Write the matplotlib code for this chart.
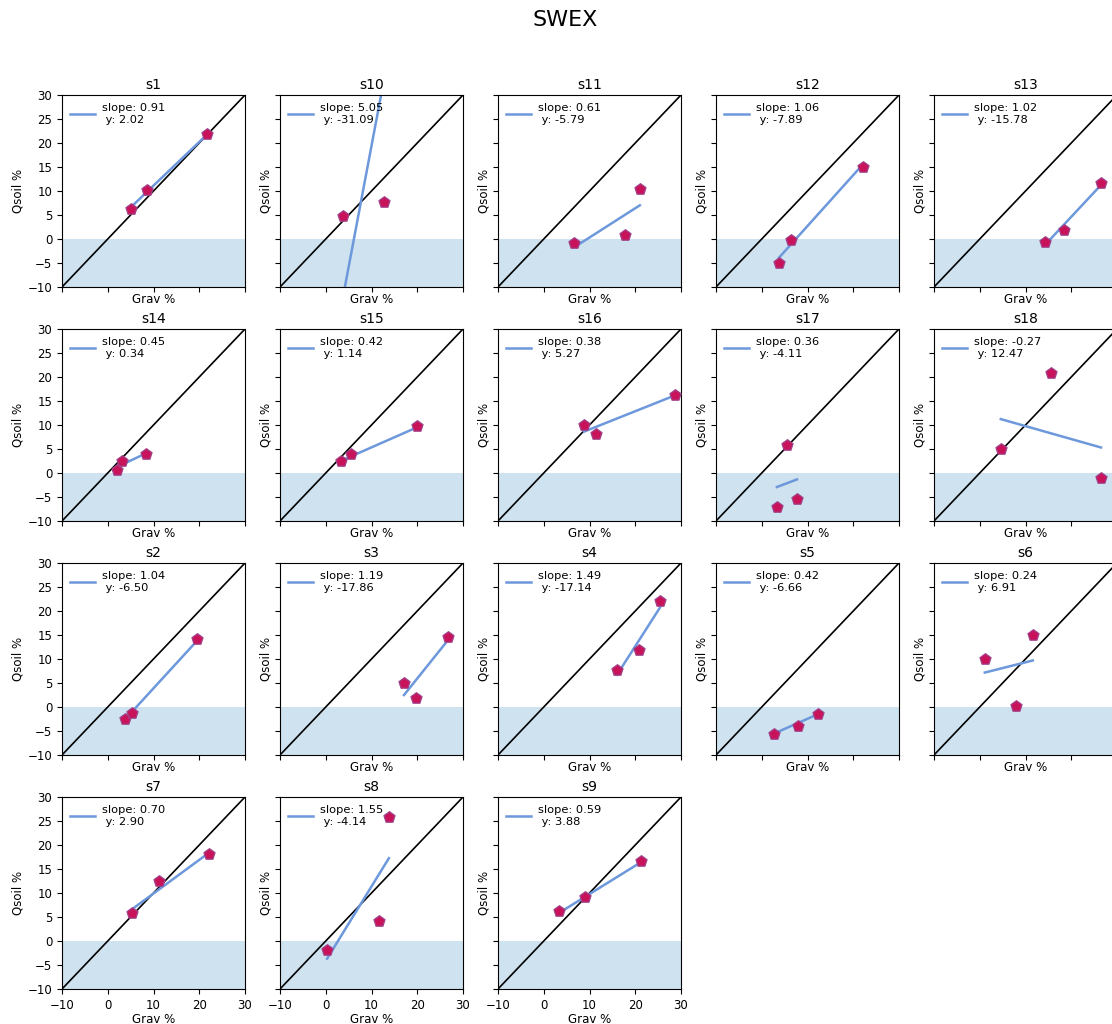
import matplotlib
matplotlib.use("Agg")
import matplotlib.pyplot as plt
import numpy as np

names = ["s1", "s10", "s11", "s12", "s13", "s14", "s15", "s16", "s17", "s18",
         "s2", "s3", "s4", "s5", "s6", "s7", "s8", "s9"]

grav = {
    "s1": [5.0, 8.5, 21.8],
    "s10": [3.8, 12.7],
    "s11": [6.6, 17.8, 21.0],
    "s12": [3.8, 6.4, 22.1],
    "s13": [14.3, 18.5, 26.5],
    "s14": [2.0, 3.1, 8.4],
    "s15": [3.3, 5.5, 19.9],
    "s16": [8.8, 11.4, 28.7],
    "s17": [3.3, 5.5, 7.7],
    "s18": [4.6, 15.6, 26.5],
    "s2": [3.8, 5.3, 19.5],
    "s3": [17.1, 19.7, 26.7],
    "s4": [16.0, 20.8, 25.4],
    "s5": [2.7, 7.9, 12.3],
    "s6": [1.1, 7.9, 11.6],
    "s7": [5.3, 11.2, 22.1],
    "s8": [0.3, 11.6, 13.8],
    "s9": [3.4, 9.1, 21.3],
}

qsoil = {
    "s1": [6.2, 10.3, 21.8],
    "s10": [4.7, 7.8],
    "s11": [-0.8, 0.9, 10.5],
    "s12": [-5.0, -0.2, 15.1],
    "s13": [-0.6, 1.9, 11.6],
    "s14": [0.7, 2.4, 4.0],
    "s15": [2.4, 4.0, 9.7],
    "s16": [9.9, 8.2, 16.2],
    "s17": [-7.1, 5.9, -5.4],
    "s18": [4.9, 20.8, -1.0],
    "s2": [-2.5, -1.2, 14.1],
    "s3": [5.1, 1.9, 14.5],
    "s4": [7.8, 11.8, 22.0],
    "s5": [-5.6, -3.9, -1.4],
    "s6": [10.1, 0.3, 15.1],
    "s7": [5.9, 12.4, 18.1],
    "s8": [-1.8, 4.2, 25.8],
    "s9": [6.3, 9.1, 16.6],
}

slopes = {
    "s1": 0.91, "s10": 5.05, "s11": 0.61, "s12": 1.06, "s13": 1.02,
    "s14": 0.45, "s15": 0.42, "s16": 0.38, "s17": 0.36, "s18": -0.27,
    "s2": 1.04, "s3": 1.19, "s4": 1.49, "s5": 0.42, "s6": 0.24,
    "s7": 0.70, "s8": 1.55, "s9": 0.59,
}

intercepts = {
    "s1": 2.02, "s10": -31.09, "s11": -5.79, "s12": -7.89, "s13": -15.78,
    "s14": 0.34, "s15": 1.14, "s16": 5.27, "s17": -4.11, "s18": 12.47,
    "s2": -6.50, "s3": -17.86, "s4": -17.14, "s5": -6.66, "s6": 6.91,
    "s7": 2.90, "s8": -4.14, "s9": 3.88,
}

ticks = [-10, 0, 10, 20, 30]
yticks = [-10, -5, 0, 5, 10, 15, 20, 25, 30]

W, H = 1112, 1024
fig, axes = plt.subplots(4, 5, sharex=True, sharey=True, figsize=(W / 100, H / 100), dpi=100)
fig.subplots_adjust(left=62 / W, right=1117 / W, top=1 - 95 / H, bottom=1 - 989 / H,
                    wspace=35 / 183, hspace=42 / 192)

flat = axes.flatten()
for ax, name in zip(flat, names):
    x = np.array(grav[name])
    y = np.array(qsoil[name])
    m = slopes[name]
    b = intercepts[name]
    ax.axhspan(-10, 0, color="#1f77b4", alpha=0.21, lw=0, zorder=0)
    ax.plot([-10, 30], [-10, 30], color="black", lw=1.2, zorder=1)
    xl = np.array([x.min(), x.max()])
    ax.plot(xl, m * xl + b, color="#6d98dc", lw=1.8, zorder=2,
            label=f"slope: {m:.2f}\n y: {b:.2f}")
    ax.scatter(x, y, marker="p", s=70, c="#c8135a", edgecolors="#a0418a",
               linewidths=0.9, zorder=3)
    ax.set_xlim(-10, 30)
    ax.set_ylim(-10, 30)
    ax.set_xticks(ticks)
    ax.set_yticks(yticks)
    ax.tick_params(labelsize=8.5)
    ax.set_title(name, fontsize=10, pad=4)
    ax.set_xlabel("Grav %", fontsize=8.5, labelpad=1)
    ax.set_ylabel("Qsoil %", fontsize=8.5, labelpad=2)
    ax.legend(loc="upper left", frameon=False, fontsize=8.2, handlelength=2.2,
              borderaxespad=0.3, handletextpad=0.6, labelspacing=0.3)

for ax in flat[len(names):]:
    ax.remove()

fig.text(565 / W, 1 - 20 / H, "SWEX", ha="center", va="center", fontsize=16)

fig.savefig("out.png", dpi=100)
